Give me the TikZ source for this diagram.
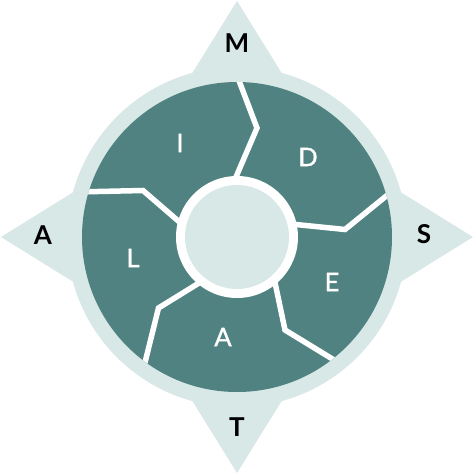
\documentclass[tikz,border=0pt]{standalone}
\usepackage{fontspec}
\setmainfont{Lato}
\usetikzlibrary{calc}
\definecolor{teal1}{HTML}{4F8280}
\definecolor{pale}{HTML}{D7E8E6}
\begin{document}
\begin{tikzpicture}[x=1pt,y=-1pt,
  divider/.style={draw=white,line width=5.5pt,line join=miter},
  outerlbl/.style={text=black,inner sep=0pt,font=\fontsize{26}{26}\selectfont\bfseries},
  innerlbl/.style={text=white,inner sep=0pt,font=\fontsize{25.5}{25.5}\selectfont\addfontfeature{FakeBold=1.2}}]
\useasboundingbox[fill=white] (0,0) rectangle (474,474);
\coordinate (c) at (237,237);
% compass points
\fill[pale] (237,1) -- (157,130) -- (317,130) -- cycle;
\fill[pale] (473,237) -- (344,157) -- (344,317) -- cycle;
\fill[pale] (237,473) -- (157,344) -- (317,344) -- cycle;
\fill[pale] (1,237) -- (130,157) -- (130,317) -- cycle;
\fill[pale] (c) circle[radius=170];
\fill[teal1] (c) circle[radius=155];
% dividers
\begin{scope}
\clip (c) circle[radius=155];
\coordinate (i1) at (236,177); \coordinate (b1) at (257,128); \coordinate (o1) at (239.5,82);
\coordinate (i2) at (296,224.5); \coordinate (b2) at (345,229.5); \coordinate (o2) at (385,197);
\coordinate (i3) at (275,282.5); \coordinate (b3) at (285,330); \coordinate (o3) at (330,357.5);
\coordinate (i4) at (199,283); \coordinate (b4) at (158.5,308); \coordinate (o4) at (145.5,360.5);
\coordinate (i5) at (178.3,221); \coordinate (b5) at (143,190.5); \coordinate (o5) at (89,191.7);
\foreach \k in {1,...,5}{
  \draw[divider] ($(b\k)!1.2!(i\k)$) -- (b\k) -- ($(b\k)!1.3!(o\k)$);
}
\end{scope}
% hub
\fill[white] (c) circle[radius=61];
\fill[pale] (c) circle[radius=52];
% labels
\node[outerlbl] (m) at (237,43) {M};
\node[outerlbl] (s) at (424,234) {S};
\node[outerlbl] (t) at (237,427) {T};
\node[outerlbl] (a) at (43,235) {A};
\node[innerlbl] (li) at (180,143) {I};
\node[innerlbl] (ld) at (308,157) {D};
\node[innerlbl] (le) at (332,282) {E};
\node[innerlbl] (la) at (223,337) {A};
\node[innerlbl] (ll) at (133,258) {L};
\end{tikzpicture}
\end{document}
